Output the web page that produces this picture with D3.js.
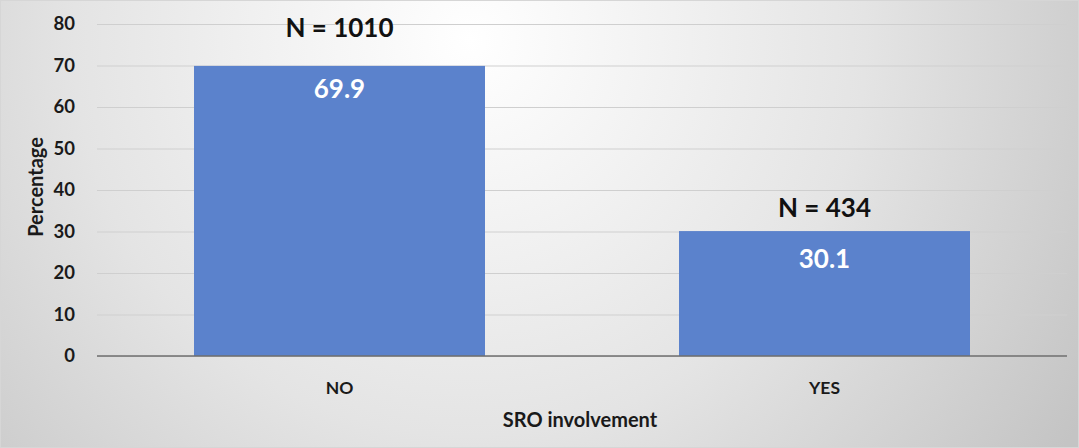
<!DOCTYPE html>
<html><head><meta charset="utf-8">
<script src="https://cdn.jsdelivr.net/npm/d3@7"></script>
<style>body{margin:0;background:#fff}svg{display:block}text{font-family:Lato,"Open Sans",sans-serif;font-weight:bold}</style>
</head><body>
<svg id="c" width="1079" height="448"></svg>
<script>
const categories = ["NO", "YES"];
const values = [69.9, 30.1];
const counts = ["N = 1010", "N = 434"];
const yTicks = [0, 10, 20, 30, 40, 50, 60, 70, 80];

const svg = d3.select("#c");
const W = 1079, H = 448;
const defs = svg.append("defs");
const g = defs.append("radialGradient").attr("id","bg").attr("gradientUnits","userSpaceOnUse")
  .attr("cx",470).attr("cy",40).attr("r",720);
g.append("stop").attr("offset","0").attr("stop-color","#ffffff");
g.append("stop").attr("offset","0.55").attr("stop-color","#e4e4e4");
g.append("stop").attr("offset","1").attr("stop-color","#c4c4c4");
svg.append("rect").attr("x",0.5).attr("y",0.5).attr("width",W-1).attr("height",H-1)
  .attr("fill","url(#bg)").attr("stroke","#d6d6d6");

const x = d3.scaleBand().domain(categories).range([97,1067]).paddingInner(0.4).paddingOuter(0.2);
const y = d3.scaleLinear().domain([0,80]).range([356,24]);

const yAxis = svg.append("g").attr("transform","translate(97,0)")
  .call(d3.axisLeft(y).tickValues(yTicks).tickSize(-(1067-97)).tickPadding(22));
yAxis.select(".domain").remove();
yAxis.selectAll(".tick line").attr("stroke","#cfcfcf").attr("stroke-width",1.2);
yAxis.selectAll(".tick text").attr("font-size",18.5).attr("fill","#1a1a1a");

svg.selectAll("rect.bar").data(values).join("rect").attr("class","bar")
  .attr("x",(d,i)=>x(categories[i])).attr("width",x.bandwidth())
  .attr("y",d=>y(d)).attr("height",d=>y(0)-y(d)).attr("fill","#5b82cc");

svg.append("line").attr("x1",97).attr("x2",1067).attr("y1",y(0)).attr("y2",y(0))
  .attr("stroke","#6e6e6e").attr("stroke-width",1.5);

const xAxis = svg.append("g").attr("transform",`translate(0,${y(0)})`)
  .call(d3.axisBottom(x).tickSize(0));
xAxis.select(".domain").remove();
xAxis.selectAll(".tick text").attr("y",38).attr("dy",0).attr("font-size",17.5).attr("fill","#1a1a1a");

// label nudges (manual placement as in the original)
const valNudge = [32, 37];
const nNudge = [-29, -14];

svg.selectAll("text.val").data(values).join("text").attr("class","val")
  .attr("x",(d,i)=>x(categories[i])+x.bandwidth()/2).attr("y",(d,i)=>y(d)+valNudge[i])
  .attr("text-anchor","middle").attr("font-size",26).attr("fill","#ffffff").text(d=>d.toFixed(1));

svg.selectAll("text.n").data(values).join("text").attr("class","n")
  .attr("x",(d,i)=>x(categories[i])+x.bandwidth()/2).attr("y",(d,i)=>y(d)+nNudge[i])
  .attr("text-anchor","middle").attr("font-size",26).attr("fill","#111").text((d,i)=>counts[i]);

svg.append("text").attr("transform","translate(43,187) rotate(-90)").attr("text-anchor","middle")
  .attr("font-size",20).attr("fill","#1a1a1a").text("Percentage");
svg.append("text").attr("x",580).attr("y",427).attr("text-anchor","middle")
  .attr("font-size",20).attr("fill","#1a1a1a").text("SRO involvement");
</script>
</body></html>
